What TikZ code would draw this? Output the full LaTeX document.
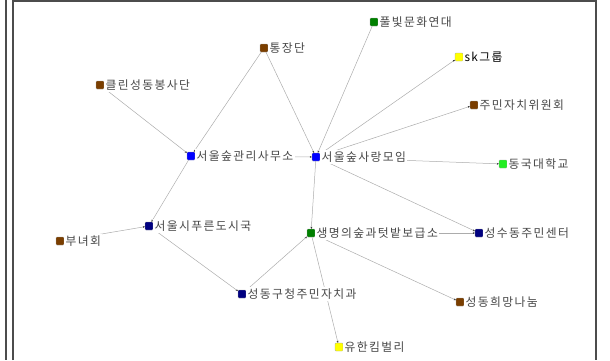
\documentclass[tikz,border=0pt]{standalone}
\usepackage{fontspec}
\newfontfamily\kr[LetterSpace=12]{Noto Sans CJK KR}
\usetikzlibrary{arrows.meta}

\tikzset{
  sq/.style={draw=gray!70, line width=0.3pt, rounded corners=0.8pt, minimum size=8pt, inner sep=0pt},
  lbl/.style={font=\kr\fontsize{11.8}{13}\selectfont, text=black!72, fill=white, inner sep=1.2pt, anchor=west},
  link/.style={draw=gray!65, line width=0.5pt, -{Stealth[length=2pt,width=1.8pt,color=black!85]}},
  frame/.style={draw=black!70, line width=1.1pt}
}

\begin{document}
\begin{tikzpicture}[x=1pt,y=-1pt]
            \useasboundingbox (0,0) rectangle (610,360);
            \draw[frame] (6,0) -- (6,360);
            \draw[frame] (13,360) -- (13,1) -- (596,1) -- (596,360);

            \definecolor{brn}{HTML}{7A3E00}
            \definecolor{nvy}{HTML}{000080}
            \definecolor{grn}{HTML}{008000}
            \definecolor{lim}{HTML}{22EE22}
            \definecolor{ylw}{HTML}{FFFF00}

            \node[sq, fill=brn] (tongjang) at (264,48) {};
            \node[sq, fill=brn] (clean) at (100,85) {};
            \node[sq, fill=blue] (gwanri) at (191,156) {};
            \node[sq, fill=blue] (sarang) at (316,157) {};
            \node[sq, fill=grn] (pulbit) at (374,22) {};
            \node[sq, fill=ylw] (sk) at (459,57) {};
            \node[sq, fill=brn] (jachi) at (474,105) {};
            \node[sq, fill=lim] (donguk) at (503,164) {};
            \node[sq, fill=nvy] (pureun) at (149,226) {};
            \node[sq, fill=brn] (bunyeo) at (60,241) {};
            \node[sq, fill=grn] (saengmyeong) at (311,233) {};
            \node[sq, fill=nvy] (seongsu) at (479,233) {};
            \node[sq, fill=nvy] (guchung) at (242,294) {};
            \node[sq, fill=brn] (huimang) at (460,302) {};
            \node[sq, fill=ylw] (yuhan) at (339,347) {};

            \draw[link] (tongjang) -- (gwanri);
            \draw[link] (tongjang) -- (sarang);
            \draw[link] (clean) -- (gwanri);
            \draw[link] (gwanri) -- (sarang);
            \draw[link] (pulbit) -- (sarang);
            \draw[link] (gwanri) -- (pureun);
            \draw[link] (bunyeo) -- (pureun);
            \draw[link] (pureun) -- (guchung);
            \draw[link] (guchung) -- (saengmyeong);
            \draw[link] (sarang) -- (saengmyeong);
            \draw[link] (sarang) -- (sk);
            \draw[link] (sarang) -- (jachi);
            \draw[link] (sarang) -- (donguk);
            \draw[link] (sarang) -- (seongsu);
            \draw[link] (saengmyeong) -- (seongsu);
            \draw[link] (saengmyeong) -- (huimang);
            \draw[link] (saengmyeong) -- (yuhan);

            \node[lbl] (tongjang-t) at (tongjang.east) {통장단};
            \node[lbl] (clean-t) at (clean.east) {클린성동봉사단};
            \node[lbl] (gwanri-t) at (gwanri.east) {서울숲관리사무소};
            \node[lbl] (sarang-t) at (sarang.east) {서울숲사랑모임};
            \node[lbl] (pulbit-t) at (pulbit.east) {풀빛문화연대};
            \node[lbl, text=black] (sk-t) at (sk.east) {sk그룹};
            \node[lbl] (jachi-t) at (jachi.east) {주민자치위원회};
            \node[lbl] (donguk-t) at (donguk.east) {동국대학교};
            \node[lbl] (pureun-t) at (pureun.east) {서울시푸른도시국};
            \node[lbl] (bunyeo-t) at (bunyeo.east) {부녀회};
            \node[lbl] (saengmyeong-t) at (saengmyeong.east) {생명의숲과텃밭보급소};
            \node[lbl] (seongsu-t) at (seongsu.east) {성수동주민센터};
            \node[lbl] (guchung-t) at (guchung.east) {성동구청주민자치과};
            \node[lbl] (huimang-t) at (huimang.east) {성동희망나눔};
            \node[lbl] (yuhan-t) at (yuhan.east) {유한킴벌리};
        \end{tikzpicture}
\end{document}
